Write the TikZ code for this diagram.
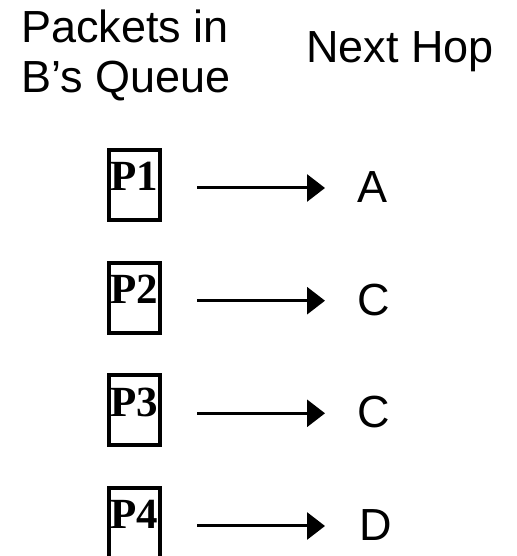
\documentclass[tikz,border=0pt]{standalone}
\usepackage{fontspec}
\setmainfont{Liberation Sans}
\newfontfamily\pktfont{Liberation Serif}
\usetikzlibrary{arrows.meta}

\tikzset{
  big/.style={inner sep=0pt, font=\fontsize{45}{50}\selectfont},
  pkt/.style={draw, line width=4pt, inner sep=0pt, minimum width=51pt,
    minimum height=70pt, text height=28pt, text depth=16pt,
    font=\pktfont\bfseries\fontsize{43}{43}\selectfont},
  hop/.style={big, anchor=west},
  fwd/.style={line width=3pt, -{Triangle[length=18pt,width=27pt]}}
}

\begin{document}
\begin{tikzpicture}[x=1pt,y=1pt]
\useasboundingbox (0,0) rectangle (516,556);
% column headings
\node[big, anchor=north west, align=left] (queue) at (21,546) {Packets in\\B’s Queue};
\node[big, anchor=base west] (nexthop) at (306,493) {Next Hop};
% queued packets
\node[pkt] (p1) at (134.5,371) {P1};
\node[pkt] (p2) at (134.5,258.3) {P2};
\node[pkt] (p3) at (134.5,145.7) {P3};
\node[pkt] (p4) at (134.5,33) {P4};
% where each one goes
\node[hop] (h1) at (357,369) {A};
\node[hop] (h2) at (357,256.3) {C};
\node[hop] (h3) at (357,143.7) {C};
\node[hop] (h4) at (359,31) {D};
\draw[fwd] ([xshift=35pt,yshift=-3pt]p1.east) -- ([xshift=-32pt,yshift=-3pt]p1.east -| h1.west);
\draw[fwd] ([xshift=35pt,yshift=-3pt]p2.east) -- ([xshift=-32pt,yshift=-3pt]p2.east -| h1.west);
\draw[fwd] ([xshift=35pt,yshift=-3pt]p3.east) -- ([xshift=-32pt,yshift=-3pt]p3.east -| h1.west);
\draw[fwd] ([xshift=35pt,yshift=-3pt]p4.east) -- ([xshift=-32pt,yshift=-3pt]p4.east -| h1.west);
\end{tikzpicture}
\end{document}
